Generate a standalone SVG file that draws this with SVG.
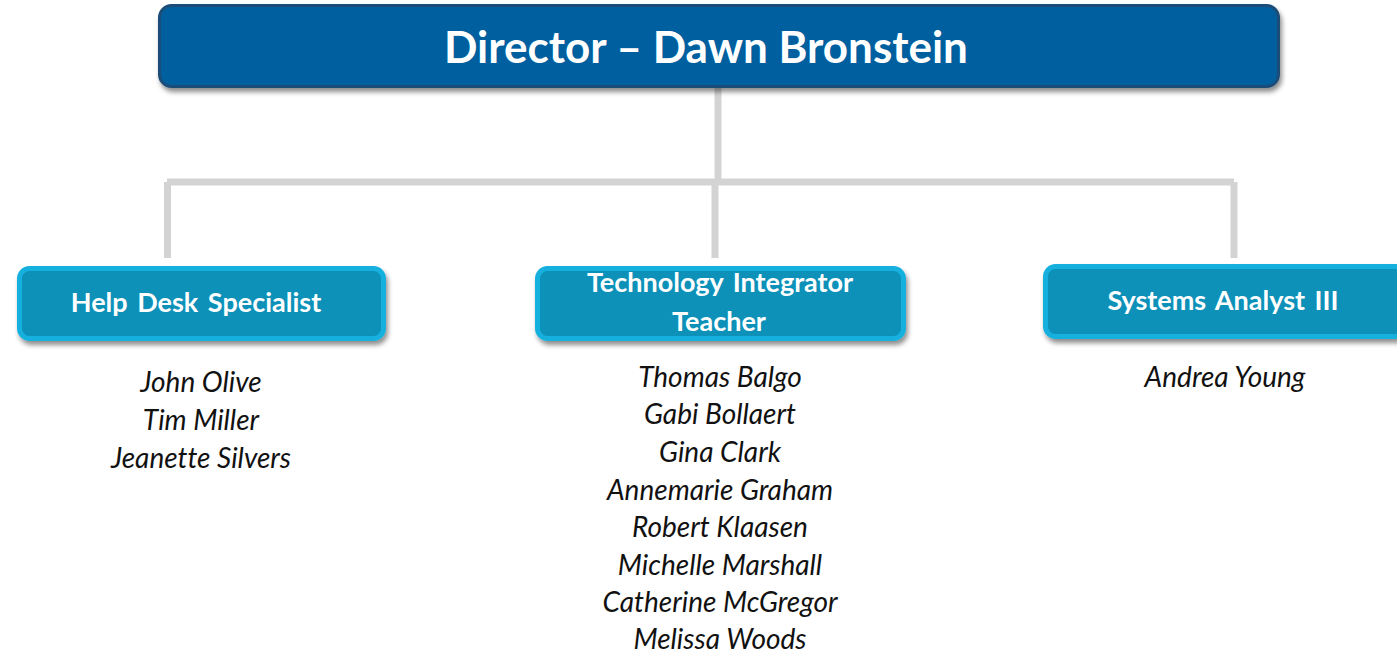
<svg xmlns="http://www.w3.org/2000/svg" width="1397" height="658" viewBox="0 0 1397 658">
<defs>
<filter id="sh" x="-5%" y="-20%" width="110%" height="150%">
<feGaussianBlur in="SourceAlpha" stdDeviation="2.5"/>
<feOffset dx="2" dy="4" result="b"/>
<feComponentTransfer><feFuncA type="linear" slope="0.45"/></feComponentTransfer>
<feMerge><feMergeNode/><feMergeNode in="SourceGraphic"/></feMerge>
</filter>
</defs>
<style>
.conn{stroke:#d3d3d3;stroke-width:7;fill:none}
.dir{fill:#005f9f;stroke:#1e4e79;stroke-width:3}
.role{fill:#0a91b9;stroke:#17b0de;stroke-width:5}
.t{font-family:Lato,"Open Sans","Liberation Sans",sans-serif;font-weight:bold;fill:#fff;text-anchor:middle}
.r{font-size:27px;word-spacing:3px}
.n{font-family:Lato,"Open Sans","Liberation Sans",sans-serif;font-style:italic;font-size:28px;fill:#111;text-anchor:middle;font-variant-ligatures:none}
</style>
<rect width="1397" height="658" fill="#fff"/>
<g id="connectors">
<line class="conn" x1="718" y1="86" x2="718" y2="182"/>
<line class="conn" x1="167" y1="182" x2="1234" y2="182"/>
<line class="conn" x1="167.5" y1="182" x2="167.5" y2="258"/>
<line class="conn" x1="715" y1="182" x2="715" y2="258"/>
<line class="conn" x1="1234" y1="182" x2="1234" y2="258"/>
</g>
<g id="director">
<rect class="dir" x="159.5" y="5.5" width="1119" height="81" rx="12" filter="url(#sh)"/>
<text class="t" x="706" y="63" font-size="44">Director – Dawn Bronstein</text>
</g>
<g id="helpdesk">
<rect class="role" x="19.5" y="268.5" width="364" height="70" rx="10" filter="url(#sh)"/>
<text class="t r" x="196" y="312">Help Desk Specialist</text>
<g id="helpdesk-names">
<text class="n" x="201" y="392">John Olive</text>
<text class="n" x="201" y="430">Tim Miller</text>
<text class="n" x="201" y="468">Jeanette Silvers</text>
</g>
</g>
<g id="techintegrator">
<rect class="role" x="537.5" y="268.5" width="366" height="70" rx="10" filter="url(#sh)"/>
<text class="t r" x="720" y="292">Technology Integrator</text>
<text class="t r" x="719" y="331">Teacher</text>
<g id="tech-names">
<text class="n" x="720" y="387">Thomas Balgo</text>
<text class="n" x="720" y="424">Gabi Bollaert</text>
<text class="n" x="720" y="462">Gina Clark</text>
<text class="n" x="720" y="500">Annemarie Graham</text>
<text class="n" x="720" y="537">Robert Klaasen</text>
<text class="n" x="720" y="575">Michelle Marshall</text>
<text class="n" x="720" y="612">Catherine McGregor</text>
<text class="n" x="720" y="649">Melissa Woods</text>
</g>
</g>
<g id="systemsanalyst">
<rect class="role" x="1045.5" y="266.5" width="366" height="70" rx="10" filter="url(#sh)"/>
<text class="t r" x="1223" y="310">Systems Analyst III</text>
<text class="n" x="1225" y="387">Andrea Young</text>
</g>
</svg>
